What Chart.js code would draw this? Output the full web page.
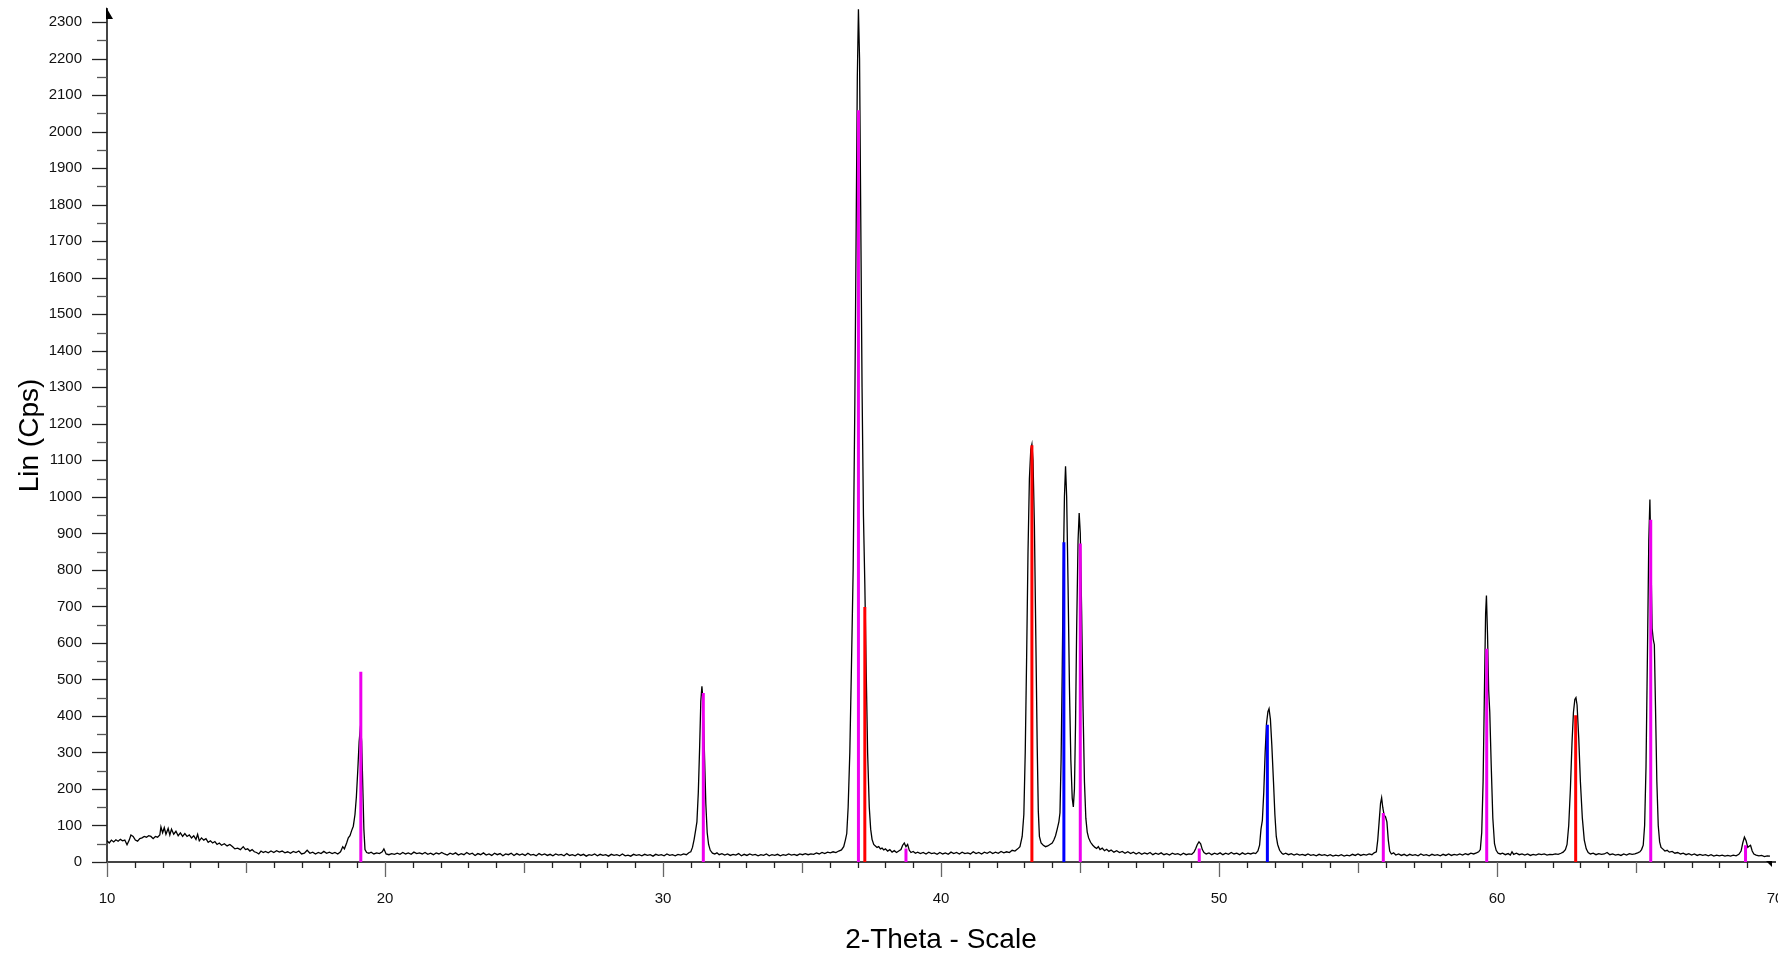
<!DOCTYPE html>
<html>
<head>
<meta charset="utf-8">
<title>XRD pattern</title>
<script src="https://cdn.jsdelivr.net/npm/chart.js@4.4.1/dist/chart.umd.min.js"></script>
<style>
    html, body { margin: 0; padding: 0; background: #fff; overflow: hidden; }
    #xrdCanvas { display: block; }
</style>
</head>
<body>
<canvas id="xrdCanvas" width="1790" height="958"></canvas>
<script>
// measured scan: [2-theta, counts]
var scan = [
    [10.0,58],[10.08,52],[10.16,60],[10.24,55],[10.32,61],[10.4,57],[10.48,62],[10.56,58],[10.64,60],[10.72,47],
    [10.8,60],[10.86,74],[10.94,70],[11.02,60],[11.1,57],[11.18,64],[11.26,66],[11.34,70],[11.42,68],[11.5,72],
    [11.58,70],[11.66,64],[11.74,70],[11.82,68],[11.9,74],[11.94,96],[12.0,80],[12.06,94],[12.12,76],[12.2,92],
    [12.26,74],[12.32,90],[12.4,76],[12.48,84],[12.56,72],[12.64,80],[12.72,70],[12.8,78],[12.88,70],[12.96,74],
    [13.04,66],[13.12,72],[13.2,62],[13.26,76],[13.32,58],[13.4,66],[13.48,60],[13.56,64],[13.64,54],[13.72,58],
    [13.8,52],[13.88,56],[13.96,48],[14.04,52],[14.12,46],[14.22,50],[14.32,44],[14.42,48],[14.52,42],[14.6,36],
    [14.7,38],[14.8,34],[14.9,42],[14.98,34],[15.06,36],[15.14,30],[15.22,34],[15.3,28],[15.38,26],[15.46,22],
    [15.54,30],[15.62,26],[15.7,29],[15.8,25],[15.9,30],[16.0,26],[16.1,31],[16.2,27],[16.3,30],[16.4,25],
    [16.5,28],[16.6,24],[16.7,29],[16.8,26],[16.9,30],[17.0,22],[17.1,24],[17.2,32],[17.3,24],[17.4,27],
    [17.5,22],[17.6,26],[17.7,23],[17.8,29],[17.9,24],[18.0,27],[18.1,23],[18.2,26],[18.3,22],[18.4,28],
    [18.48,42],[18.54,36],[18.62,52],[18.68,66],[18.74,72],[18.8,86],[18.86,98],[18.92,130],[18.97,178],[19.02,250],
    [19.07,330],[19.12,374],[19.16,330],[19.2,210],[19.24,90],[19.28,34],[19.34,26],[19.42,24],[19.5,27],[19.6,22],
    [19.7,25],[19.8,23],[19.9,28],[19.96,36],[20.04,22],[20.14,20],[20.24,23],[20.34,21],[20.44,24],
    [20.54,21],[20.64,26],[20.74,22],[20.84,25],[20.94,21],[21.04,27],[21.14,23],[21.24,25],[21.34,22],[21.44,26],
    [21.54,21],[21.64,24],[21.74,20],[21.84,25],[21.94,22],[22.04,26],[22.14,22],[22.24,19],[22.34,24],[22.44,21],
    [22.54,25],[22.64,19],[22.74,23],[22.84,20],[22.94,26],[23.04,21],[23.14,24],[23.24,18],[23.34,23],[23.44,20],
    [23.54,25],[23.64,19],[23.74,22],[23.84,18],[23.94,24],[24.04,20],[24.14,23],[24.24,17],[24.34,22],[24.44,20],
    [24.54,24],[24.64,18],[24.74,23],[24.84,19],[24.94,22],[25.04,18],[25.14,24],[25.24,19],[25.34,21],[25.44,17],
    [25.54,23],[25.64,19],[25.74,22],[25.84,18],[25.94,21],[26.04,17],[26.14,22],[26.24,19],[26.34,21],[26.44,17],
    [26.54,23],[26.64,18],[26.74,20],[26.84,17],[26.94,22],[27.04,18],[27.14,21],[27.24,16],[27.34,20],[27.44,18],
    [27.54,22],[27.64,17],[27.74,21],[27.84,18],[27.94,20],[28.04,16],[28.14,21],[28.24,18],[28.34,20],[28.44,17],
    [28.54,22],[28.64,17],[28.74,19],[28.84,16],[28.94,21],[29.04,18],[29.14,20],[29.24,17],[29.34,21],[29.44,18],
    [29.54,20],[29.64,16],[29.74,21],[29.84,18],[29.94,20],[30.04,17],[30.14,22],[30.24,18],[30.34,20],[30.44,17],
    [30.54,21],[30.64,19],[30.74,22],[30.84,20],[30.94,26],[31.0,28],[31.06,40],[31.12,62],[31.18,90],[31.22,110],
    [31.27,190],[31.32,320],[31.36,440],[31.4,481],[31.44,440],[31.49,300],[31.54,160],[31.59,80],[31.64,48],[31.7,32],
    [31.78,24],[31.86,22],[31.94,25],[32.02,20],
    [32.12,23],[32.22,19],[32.32,22],[32.42,18],[32.52,21],[32.62,19],[32.72,23],[32.82,17],[32.92,21],[33.02,18],
    [33.12,22],[33.22,19],[33.32,21],[33.42,17],[33.52,20],[33.62,18],[33.72,22],[33.82,17],[33.92,20],[34.02,18],
    [34.12,21],[34.22,17],[34.32,20],[34.42,18],[34.52,22],[34.62,19],[34.72,21],[34.82,18],[34.92,22],[35.02,20],
    [35.12,23],[35.22,20],[35.32,22],[35.42,21],[35.52,25],[35.62,22],[35.72,26],[35.82,23],[35.92,27],[36.02,25],
    [36.12,28],[36.22,26],[36.32,30],[36.42,33],[36.5,42],[36.56,60],[36.61,78],[36.66,150],[36.72,300],[36.78,540],
    [36.84,800],[36.9,1250],[36.95,1750],[36.99,2150],[37.03,2335],[37.07,2200],[37.11,1800],[37.16,1300],[37.21,950],[37.26,760],
    [37.31,520],[37.36,300],[37.42,150],[37.47,90],[37.52,62],[37.58,48],[37.64,44],[37.7,40],[37.76,42],[37.82,36],
    [37.88,38],[37.94,33],[38.0,36],[38.08,30],[38.16,34],[38.24,27],[38.32,31],[38.4,26],[38.48,30],[38.56,34],
    [38.62,46],[38.68,52],[38.74,42],[38.8,48],[38.86,32],[38.92,26],[39.0,29],[39.08,24],[39.16,27],[39.26,23],
    [39.36,26],[39.46,22],[39.56,27],[39.66,23],[39.76,25],[39.86,21],[39.96,26],[40.06,22],[40.16,25],[40.26,21],
    [40.36,27],[40.46,23],[40.56,26],[40.66,22],[40.76,27],[40.86,23],[40.96,25],[41.06,22],[41.16,28],[41.26,23],
    [41.36,26],[41.46,22],[41.56,27],[41.66,24],[41.76,28],[41.86,23],[41.96,27],[42.06,24],[42.16,29],[42.26,25],
    [42.36,28],[42.46,26],[42.56,32],[42.66,30],[42.76,36],[42.84,42],[42.92,70],[42.98,130],[43.03,300],[43.08,560],
    [43.13,850],[43.18,1050],[43.23,1130],[43.27,1144],[43.31,1100],[43.36,920],[43.41,620],[43.46,320],[43.5,140],[43.54,70],
    [43.6,52],[43.68,46],[43.76,42],[43.84,44],[43.92,48],[44.0,52],[44.06,60],[44.12,72],[44.18,90],[44.24,110],
    [44.28,135],[44.32,280],[44.36,520],[44.4,800],[44.44,1000],[44.48,1084],[44.52,1000],[44.57,760],[44.62,480],[44.67,280],
    [44.72,175],[44.76,151],[44.8,200],[44.84,380],[44.88,640],[44.93,880],[44.97,956],[45.01,900],[45.06,680],[45.11,420],
    [45.16,220],[45.21,120],[45.26,82],[45.31,66],[45.38,54],[45.46,46],[45.54,40],[45.6,37],[45.66,42],[45.72,34],
    [45.8,38],[45.88,31],[45.96,35],[46.04,29],[46.12,33],[46.22,27],[46.32,31],[46.42,26],[46.52,29],[46.62,24],
    [46.72,28],[46.82,23],[46.92,27],[47.02,22],[47.12,26],[47.22,21],[47.32,25],[47.42,22],[47.52,26],[47.62,20],
    [47.72,24],[47.82,21],[47.92,25],[48.02,20],[48.12,23],[48.22,19],[48.32,24],[48.42,21],[48.52,23],[48.62,19],
    [48.72,24],[48.82,20],[48.92,22],[49.02,21],[49.1,27],[49.16,36],[49.22,48],[49.28,55],[49.34,50],[49.4,34],
    [49.46,26],[49.54,22],[49.64,25],[49.74,20],[49.84,24],[49.94,21],[50.04,25],[50.14,20],[50.24,24],[50.34,21],
    [50.44,26],[50.54,22],[50.64,24],[50.74,20],[50.84,25],[50.94,21],[51.04,24],[51.14,22],[51.24,25],[51.32,23],
    [51.4,30],[51.46,46],[51.51,90],[51.56,114],[51.61,190],[51.66,300],[51.71,380],[51.76,412],[51.8,420],[51.85,390],
    [51.9,320],[51.96,220],[52.01,130],[52.06,70],[52.11,48],[52.18,32],[52.26,24],[52.31,21],[52.4,24],[52.5,20],
    [52.6,23],[52.7,19],[52.8,22],[52.9,19],[53.0,21],[53.1,18],[53.2,22],[53.3,18],[53.4,20],[53.5,17],
    [53.6,21],[53.7,18],[53.8,20],[53.9,17],[54.0,20],[54.1,16],[54.2,19],[54.3,17],[54.4,20],[54.5,16],
    [54.6,19],[54.7,17],[54.8,21],[54.9,18],[55.0,22],[55.1,18],[55.2,21],[55.3,19],[55.4,22],[55.5,20],
    [55.58,25],[55.66,28],[55.71,60],[55.76,110],[55.81,160],[55.85,176],[55.89,150],[55.94,128],[55.99,124],[56.04,110],
    [56.09,60],[56.14,30],[56.2,22],[56.28,25],[56.36,19],[56.46,22],[56.56,18],[56.66,21],[56.76,17],[56.86,21],
    [56.96,18],[57.06,20],[57.16,17],[57.26,22],[57.36,18],[57.46,20],[57.56,17],[57.66,21],[57.76,18],[57.86,20],
    [57.96,17],[58.06,21],[58.16,18],[58.26,22],[58.36,18],[58.46,21],[58.56,19],[58.66,22],[58.76,19],[58.86,23],
    [58.96,20],[59.06,24],[59.16,22],[59.26,25],[59.34,28],[59.4,34],[59.45,80],[59.5,220],[59.55,480],[59.59,680],
    [59.62,730],[59.66,620],[59.7,470],[59.74,410],[59.79,270],[59.85,120],[59.91,50],[59.97,32],[60.04,24],[60.12,22],
    [60.2,24],[60.3,20],[60.4,23],[60.48,19],[60.54,28],[60.6,21],[60.7,24],[60.8,20],[60.9,22],[61.0,19],
    [61.1,22],[61.2,18],[61.3,21],[61.4,19],[61.5,22],[61.6,20],[61.7,22],[61.8,19],[61.9,21],[62.0,20],
    [62.1,22],[62.2,21],[62.3,24],[62.38,27],[62.46,34],[62.52,48],[62.58,100],[62.64,200],[62.7,330],[62.75,410],
    [62.8,445],[62.84,450],[62.88,430],[62.94,340],[63.0,220],[63.07,120],[63.14,60],[63.21,36],[63.28,26],[63.36,22],
    [63.46,24],[63.56,20],[63.66,23],[63.76,21],[63.86,22],[63.96,26],[64.06,20],[64.16,22],[64.26,19],[64.36,21],
    [64.46,18],[64.56,22],[64.66,19],[64.76,23],[64.86,21],[64.96,22],[65.06,25],[65.14,28],[65.2,34],[65.26,46],
    [65.31,100],[65.36,260],[65.41,560],[65.46,880],[65.5,993],[65.54,820],[65.58,640],[65.62,610],[65.66,595],[65.7,430],
    [65.75,220],[65.8,100],[65.85,55],[65.9,40],[65.96,36],[66.04,30],[66.12,32],[66.2,27],[66.3,29],[66.4,24],
    [66.5,26],[66.6,22],[66.7,24],[66.8,20],[66.9,23],[67.0,19],[67.1,22],[67.2,18],[67.3,21],[67.4,18],
    [67.5,20],[67.6,17],[67.7,20],[67.8,16],[67.9,19],[68.0,17],[68.1,19],[68.2,16],[68.3,18],[68.4,16],
    [68.5,19],[68.6,17],[68.7,21],[68.78,30],[68.84,52],[68.9,68],[68.96,58],[69.02,40],[69.08,44],[69.12,46],
    [69.18,30],[69.24,22],[69.32,19],[69.42,17],[69.52,18],[69.62,15],[69.72,17],[69.82,16]
];

// reference pattern sticks (position, intensity)
var magentaPos = [19.13, 31.45, 37.03, 38.74, 45.01, 49.29, 55.91, 59.63, 65.53, 68.94];
var magentaInt = [521, 463, 2059, 37, 872, 37, 134, 584, 937, 46];
var redPos = [37.26, 43.27, 62.83];
var redInt = [698, 1141, 402];
var bluePos = [44.42, 51.74];
var blueInt = [876, 376];

var FONT = '"Liberation Sans", Arial, Helvetica, sans-serif';

// each stick = vertical segment from 0 to its intensity, separated by a gap
function sticks(pos, inten) {
    var pts = [];
    pos.forEach(function (p, i) {
        pts.push({ x: p, y: 0 });
        pts.push({ x: p, y: inten[i] });
        pts.push({ x: p, y: null });
    });
    return pts;
}

function stickSet(pos, inten, color) {
    return {
        data: sticks(pos, inten),
        borderColor: color,
        borderWidth: 3,
        borderCapStyle: 'butt',
        pointRadius: 0,
        spanGaps: false,
        order: 0
    };
}

// tick marks (major / minor) + arrow heads on the axes
var axisDecor = {
    id: 'axisDecor',
    afterDraw: function (chart) {
        var ctx = chart.ctx;
        var xs = chart.scales.x;
        var ys = chart.scales.y;
        var x0 = xs.left;
        var y0 = ys.bottom;
        ctx.save();
        ctx.lineWidth = 1.3;
        // y ticks
        for (var v = 0; v <= 2300; v += 50) {
            var py = Math.round(ys.getPixelForValue(v)) + 0.5;
            var major = v % 100 === 0;
            ctx.strokeStyle = major ? '#222' : '#555';
            ctx.beginPath();
            ctx.moveTo(x0 - (major ? 15 : 10), py);
            ctx.lineTo(x0, py);
            ctx.stroke();
        }
        // x ticks
        for (var t = 10; t <= 69; t++) {
            var px = Math.round(xs.getPixelForValue(t)) + 0.5;
            var len = t % 10 === 0 ? 15 : (t % 5 === 0 ? 11 : 6);
            ctx.strokeStyle = t % 5 === 0 ? '#666' : '#222';
            ctx.beginPath();
            ctx.moveTo(px, y0);
            ctx.lineTo(px, y0 + len);
            ctx.stroke();
        }
        // arrows
        ctx.fillStyle = '#000';
        ctx.beginPath();
        ctx.moveTo(x0 - 1, ys.top - 2);
        ctx.lineTo(x0 + 6, ys.top + 10);
        ctx.lineTo(x0 - 1, ys.top + 10);
        ctx.closePath();
        ctx.fill();
        ctx.beginPath();
        ctx.moveTo(xs.right - 9, y0 - 1);
        ctx.lineTo(xs.right - 3, y0 - 1);
        ctx.lineTo(xs.right - 3, y0 + 5);
        ctx.closePath();
        ctx.fill();
        ctx.restore();
    }
};

window.onload = function () {
    var ctx = document.getElementById('xrdCanvas').getContext('2d');
    window.xrdChart = new Chart(ctx, {
        type: 'line',
        data: {
            datasets: [
                stickSet(magentaPos, magentaInt, '#ee00ee'),
                stickSet(redPos, redInt, '#ff0000'),
                stickSet(bluePos, blueInt, '#0000ff'),
                {
                    data: scan,
                    borderColor: '#000',
                    borderWidth: 1.3,
                    pointRadius: 0,
                    tension: 0,
                    order: 1
                }
            ]
        },
        options: {
            responsive: false,
            animation: false,
            layout: { padding: { left: 0, right: 15, top: 9, bottom: 0 } },
            plugins: {
                legend: { display: false },
                tooltip: { enabled: false }
            },
            scales: {
                x: {
                    type: 'linear',
                    min: 10,
                    max: 70,
                    afterFit: function (scale) { scale.height = 96; },
                    border: { color: '#444', width: 2 },
                    // invisible tick marks only reserve room; real ticks come from axisDecor
                    grid: { display: true, drawOnChartArea: false, drawTicks: true, tickLength: 28, tickColor: 'rgba(0,0,0,0)' },
                    ticks: {
                        stepSize: 10,
                        maxRotation: 0,
                        autoSkip: false,
                        padding: 0,
                        color: '#111',
                        font: { family: FONT, size: 15 },
                        callback: function (value) { return String(value); }
                    },
                    title: {
                        display: true,
                        text: '2-Theta - Scale',
                        color: '#000',
                        font: { family: FONT, size: 28 },
                        padding: { top: 0, bottom: 1 }
                    }
                },
                y: {
                    min: 0,
                    max: 2336,
                    afterFit: function (scale) { scale.width = 107; },
                    border: { color: '#444', width: 2 },
                    grid: { display: true, drawOnChartArea: false, drawTicks: true, tickLength: 25, tickColor: 'rgba(0,0,0,0)' },
                    ticks: {
                        stepSize: 100,
                        includeBounds: false,
                        padding: 0,
                        color: '#111',
                        font: { family: FONT, size: 15 },
                        callback: function (value) { return String(value); }
                    },
                    title: {
                        display: true,
                        text: 'Lin (Cps)',
                        color: '#000',
                        font: { family: FONT, size: 28 },
                        padding: { top: 13, bottom: 0 }
                    }
                }
            }
        },
        plugins: [axisDecor]
    });
};
</script>
</body>
</html>
